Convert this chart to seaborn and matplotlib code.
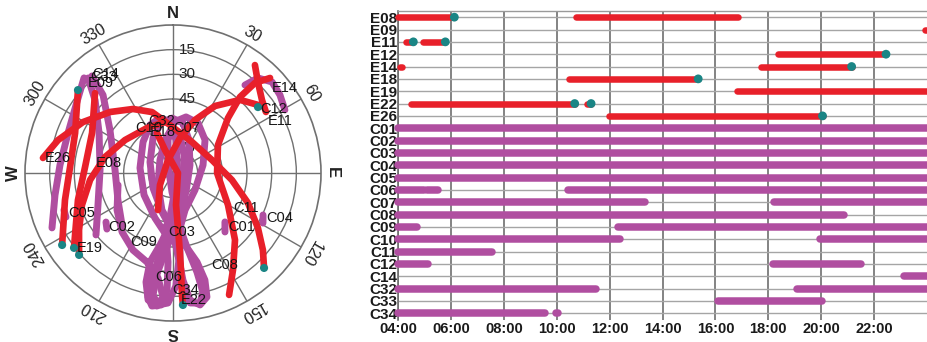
import numpy as np
import pandas as pd
import matplotlib
matplotlib.use("Agg")
import matplotlib.pyplot as plt
import seaborn as sns

# ---------------- visibility (gantt) data ----------------
rows = ['E08', 'E09', 'E11', 'E12', 'E14', 'E18', 'E19', 'E22', 'E26',
        'C01', 'C02', 'C03', 'C04', 'C05', 'C06', 'C07', 'C08', 'C09', 'C10',
        'C11', 'C12', 'C14', 'C32', 'C33', 'C34']
seg_sat = ['E08', 'E08', 'E09', 'E11', 'E11', 'E12', 'E14', 'E14', 'E18', 'E19',
           'E22', 'E22', 'E26',
           'C01', 'C02', 'C03', 'C04', 'C05', 'C06', 'C06', 'C06', 'C07', 'C07',
           'C08', 'C09', 'C09', 'C10', 'C10', 'C11', 'C12', 'C12', 'C14',
           'C32', 'C32', 'C33', 'C34', 'C34']
seg_start = [4.0, 10.73, 23.93, 4.31, 4.95, 18.35, 4.08, 17.72, 10.45, 16.8,
             4.48, 11.13, 11.98,
             4.0, 4.0, 4.0, 4.0, 4.0, 4.0, 5.1, 10.43, 4.0, 18.2,
             4.0, 4.0, 12.33, 4.0, 19.97, 4.0, 4.0, 18.17, 23.12,
             4.0, 19.1, 16.09, 4.0, 9.98]
seg_end = [6.13, 16.84, 24.0, 4.58, 5.79, 22.45, 4.16, 21.15, 15.35, 24.0,
           10.68, 11.3, 20.05,
           24.0, 24.0, 24.0, 24.0, 24.0, 5.0, 5.5, 24.0, 13.35, 24.0,
           20.85, 4.72, 24.0, 12.38, 24.0, 7.57, 5.15, 21.5, 24.0,
           11.47, 24.0, 20.03, 9.57, 10.06]
teal_sat = ['E08', 'E11', 'E11', 'E12', 'E14', 'E18', 'E22', 'E22', 'E26']
teal_time = [6.13, 4.58, 5.79, 22.45, 21.15, 15.35, 10.68, 11.3, 20.05]
time_ticks = [4, 6, 8, 10, 12, 14, 16, 18, 20, 22]
time_labels = ['04:00', '06:00', '08:00', '10:00', '12:00', '14:00', '16:00',
               '18:00', '20:00', '22:00']

# ---------------- sky plot data (azimuth deg, elevation deg) ----------------
trk_E26_az = [276.6, 286.0, 299.5, 314.1, 328.0, 341.0, 356.4, 31.5, 71.6, 96.8, 111.8, 122.9, 130.6, 136.2]
trk_E26_el = [10.4, 17.3, 27.1, 36.7, 44.1, 50.8, 60.8, 67.9, 65.0, 53.9, 40.9, 28.5, 18.0, 10.0]
trk_E22_az = [338.2, 340.8, 90.0, 174.6, 174.9, 175.3, 175.8, 175.7]
trk_E22_el = [63.8, 75.2, 87.0, 70.5, 49.1, 30.8, 15.6, 9.5]
trk_E09_az = [311.1, 292.2, 273.3, 256.0, 237.0]
trk_E09_el = [13.3, 25.7, 27.3, 22.3, 9.6]
trk_E08_az = [315.7, 296.3, 273.9, 254.1, 232.9]
trk_E08_el = [22.1, 35.1, 36.4, 29.9, 14.5]
trk_E19_az = [351.1, 330.0, 304.5, 283.2, 265.2, 250.6, 238.8, 228.9]
trk_E19_el = [58.6, 58.4, 54.6, 47.5, 39.4, 31.3, 23.2, 14.2]
trk_E14_az = [45.6, 42.3, 41.4, 45.0, 58.1, 90.0, 120.2, 137.2, 148.3, 155.3]
trk_E14_el = [7.4, 15.9, 28.4, 42.7, 57.8, 63.2, 51.3, 34.5, 20.6, 8.4]
trk_E12_az = [53.0, 42.5, 32.1, 22.5, 11.3, 339.0, 227.3, 202.1]
trk_E12_el = [22.3, 29.7, 41.9, 55.1, 68.3, 81.5, 79.2, 65.7]
trk_E11_az = [37.2, 43.0, 50.6, 56.7]
trk_E11_el = [7.6, 14.3, 20.0, 22.4]

trk_C33_az = [318.2, 313.1, 298.4, 272.4, 246.9, 231.2]
trk_C33_el = [12.5, 25.1, 38.9, 45.6, 40.4, 29.9]
trk_C14_az = [316.9, 305.0, 290.9, 274.0, 259.4, 245.6]
trk_C14_el = [10.8, 18.0, 21.7, 21.1, 17.0, 9.2]
trk_C32_az = [320.1, 318.1, 304.3, 273.0, 243.9, 224.4]
trk_C32_el = [13.1, 26.3, 43.6, 54.7, 52.7, 45.7]
trk_C12_az = [39.3, 41.8, 47.4, 53.9, 60.6]
trk_C12_el = [20.9, 12.5, 8.2, 9.5, 11.9]
trk_C06_az = [180, 195.8, 233.1, 295.6, 330.3, 346.5, 359, 11.3, 25.9, 64.8, 145.6, 171.7, 180,
              185.8, 189, 189.3, 186.5, 182.2, 178.5, 176.1, 180]
trk_C06_el = [54.1, 65.4, 74.8, 74.5, 65.5, 58.7, 56.6, 59.0, 67.7, 78.6, 76.0, 64.8, 54.1,
              41.7, 27.8, 14.8, 9.2, 10.9, 21.3, 37.0, 54.1]
trk_C07_az = [172.7, 162, 127.7, 75.1, 44.1, 26.6, 13.1, 1.1, 351.4, 328, 183, 174.1, 172.7,
              169, 166.4, 165.9, 168.3, 172.5, 175.5, 175.4, 172.7]
trk_C07_el = [56.3, 66.3, 73.1, 71.1, 62.0, 56.0, 55.0, 59.0, 69.7, 84.3, 78.4, 66.2, 56.3,
              42.3, 28.0, 15.4, 9.2, 10.3, 19.8, 36.9, 56.3]
trk_C10_az = [186.4, 201.8, 232.8, 278.6, 315.9, 334.4, 346.7, 356.6, 5.2, 26.6, 177.4, 183.9, 186.4,
              189, 191.4, 191.4, 189, 185.2, 182.9, 183.2, 186.4]
trk_C10_el = [52.1, 60.5, 67.9, 69.7, 63.8, 57.6, 55.6, 58.9, 69.9, 84.6, 76.6, 63.2, 52.1,
              39.5, 25.5, 13.1, 8.1, 9.4, 18.7, 35.8, 52.1]
trk_C08_az = [181, 196.6, 231.3, 315, 346.4, 358.7, 10.4, 31.4, 124.9, 171.1, 181,
              170.5, 164.9, 163.4, 164.7, 168.4, 172.4, 174.7, 176.5, 181]
trk_C08_el = [56.6, 66.5, 78.3, 78.8, 69.3, 62.6, 66.5, 77.2, 82.6, 70.3, 56.6,
              45.6, 33.9, 22.1, 11.8, 8.1, 12.1, 24.6, 40.0, 56.6]
trk_C09_az = [257.7, 236.5, 220.8, 207.5, 196.3, 188.1, 184.6, 186.9, 191.1, 193.9, 194.5, 190.2, 183.3, 171.1]
trk_C09_el = [55.8, 49.2, 42.6, 37.2, 33.6, 25.5, 14.4, 8.5, 11.3, 21.7, 34.1, 45.5, 58.3, 70.3]
trk_C01_az = [133.3, 138.6]
trk_C01_el = [46.6, 42.2]
trk_C02_az = [233.8, 229.7]
trk_C02_el = [39.5, 37.3]
trk_C03_az = [187.5, 185.4]
trk_C03_el = [57.5, 51.5]
trk_C04_az = [115.0, 119.1]
trk_C04_el = [29.6, 27.4]
trk_C05_az = [251.3, 247.6]
trk_C05_el = [20.0, 19.6]

sky_teal_az = [311.1, 237.0, 232.9, 228.9, 175.7, 136.2, 52.2]
sky_teal_el = [13.3, 9.6, 14.5, 14.2, 9.5, 10.0, 24.6]

sky_lab_txt = ['E26', 'E08', 'C05', 'C02', 'E19', 'C09', 'C03', 'C06', 'C34', 'E22', 'C08',
               'C01', 'C11', 'C04', 'E11', 'C12', 'E14', 'C07', 'C32', 'C10', 'E18',
               'C33', 'C14', 'E09']
sky_lab_az = [276.7, 277.4, 249.1, 230.3, 232.0, 211.9, 184.8, 189.8, 180.5, 176.4, 157.6,
              134.5, 120.3, 115.8, 61.3, 53.7, 49.4, 0.5, 334.3, 319.8, 330.7,
              319.2, 320.7, 316.6]
sky_lab_el = [11.6, 42.8, 21.7, 38.6, 15.9, 40.6, 54.0, 25.8, 18.9, 12.6, 29.5,
              43.1, 47.7, 27.2, 24.1, 24.3, 10.6, 62.6, 54.9, 54.2, 61.4,
              12.8, 12.2, 14.7]

ring_elev = [15, 30, 45, 60, 75]
ring_labels = ['15', '30', '45', '60', '75']
dir_az = [0, 30, 60, 90, 120, 150, 180, 210, 240, 270, 300, 330]
dir_labels = ['N', '30', '60', 'E', '120', '150', 'S', '210', '240', 'W', '300', '330']

RED = '#e8202a'
PURPLE = '#b04ea0'
TEAL = '#1a8585'

sns.set_style('white')
plt.rcParams['font.family'] = ['Liberation Sans', 'DejaVu Sans']

fig = plt.figure(figsize=(9.27, 3.42), dpi=100)

# ================= sky plot =================
pax = fig.add_axes([25 / 927, 21 / 342, 296 / 927, 296 / 342], projection='polar')
pax.set_theta_zero_location('N')
pax.set_theta_direction(-1)
pax.set_ylim(0, 90)
pax.set_rgrids([15, 30, 45, 60, 75])
pax.set_yticklabels([])
pax.set_thetagrids(np.arange(0, 360, 30))
pax.set_xticklabels([])
pax.grid(True, color='#707070', lw=1.0)
pax.spines['polar'].set_color('#707070')
pax.spines['polar'].set_linewidth(1.2)
pax.set_facecolor('white')

for e, t in zip(ring_elev, ring_labels):
    pax.annotate(t, xy=(0, 90 - e), xytext=(4, 0), textcoords='offset points',
                 ha='left', va='center', fontsize=11, color='#222222', zorder=1)

for a, t in zip(dir_az, dir_labels):
    bold = t in ('N', 'E', 'S', 'W')
    pax.text(np.deg2rad(a), 97, t, rotation=-a, rotation_mode='anchor',
             ha='center', va='center', fontsize=12 if bold else 11.5,
             fontweight='bold' if bold else 'normal', color='#222222', clip_on=False)

purple_tracks = [(trk_C33_az, trk_C33_el), (trk_C14_az, trk_C14_el), (trk_C32_az, trk_C32_el),
                 (trk_C12_az, trk_C12_el), (trk_C06_az, trk_C06_el), (trk_C07_az, trk_C07_el),
                 (trk_C10_az, trk_C10_el), (trk_C08_az, trk_C08_el), (trk_C09_az, trk_C09_el),
                 (trk_C01_az, trk_C01_el), (trk_C02_az, trk_C02_el), (trk_C03_az, trk_C03_el),
                 (trk_C04_az, trk_C04_el), (trk_C05_az, trk_C05_el)]
red_tracks = [(trk_E26_az, trk_E26_el), (trk_E22_az, trk_E22_el), (trk_E09_az, trk_E09_el),
              (trk_E08_az, trk_E08_el), (trk_E19_az, trk_E19_el), (trk_E14_az, trk_E14_el),
              (trk_E12_az, trk_E12_el), (trk_E11_az, trk_E11_el)]

for az, el in purple_tracks:
    pax.plot(np.deg2rad(az), 90 - np.asarray(el), color=PURPLE, lw=5.0,
             solid_capstyle='round', solid_joinstyle='round', zorder=3)
for az, el in red_tracks:
    pax.plot(np.deg2rad(az), 90 - np.asarray(el), color=RED, lw=4.8,
             solid_capstyle='round', solid_joinstyle='round', zorder=4)

sns.scatterplot(x=np.deg2rad(sky_teal_az), y=90 - np.asarray(sky_teal_el), ax=pax,
                color=TEAL, s=34, edgecolor='none', zorder=5, legend=False)
pax.set_xlabel('')
pax.set_ylabel('')
pax.set_ylim(0, 90)

for t, a, e in zip(sky_lab_txt, sky_lab_az, sky_lab_el):
    pax.text(np.deg2rad(a), 90 - e, t, ha='left', va='center', fontsize=10.5,
             color='#151515', zorder=6)

# ================= gantt =================
gax = fig.add_axes([398 / 927, 22.5 / 342, 529 / 927, 308.5 / 342])
rec = []
for i, (s, a, b) in enumerate(zip(seg_sat, seg_start, seg_end)):
    sys_ = 'E' if s.startswith('E') else 'C'
    rec.append(dict(seg=i, x=a, y=rows.index(s), sys=sys_))
    rec.append(dict(seg=i, x=b, y=rows.index(s), sys=sys_))
df = pd.DataFrame(rec)

sns.lineplot(data=df, x='x', y='y', hue='sys', size='sys', units='seg',
             estimator=None, sort=False, palette={'E': RED, 'C': PURPLE},
             sizes={'E': 4.7, 'C': 5.4}, legend=False, ax=gax)
for ln in gax.lines:
    ln.set_solid_capstyle('round')
    ln.set_clip_on(False)
    ln.set_zorder(3)

sns.scatterplot(x=teal_time, y=[rows.index(s) for s in teal_sat], ax=gax,
                color=TEAL, s=40, edgecolor='none', zorder=4, legend=False, clip_on=False)

gax.set_xlim(4, 24)
gax.set_ylim(len(rows) - 0.5, -0.5)
gax.set_yticks(range(len(rows)))
gax.set_yticklabels(rows, fontsize=11, fontweight='bold', color='#1a1a1a')
gax.set_xticks(time_ticks)
gax.set_xticklabels(time_labels, fontsize=10.5, fontweight='bold', color='#1a1a1a')
gax.tick_params(axis='both', length=0)
gax.tick_params(axis='y', pad=0.5)
gax.tick_params(axis='x', pad=2)
gax.set_xlabel('')
gax.set_ylabel('')
gax.set_axisbelow(True)
gax.xaxis.grid(True, color='#6e6e6e', lw=1.2)
gax.yaxis.grid(True, color='#a5a5a5', lw=1.0)
for sp in ('right', 'bottom'):
    gax.spines[sp].set_visible(False)
gax.spines['left'].set_color('#6e6e6e')
gax.spines['left'].set_linewidth(1.2)
gax.spines['top'].set_color('#9a9a9a')
gax.spines['top'].set_linewidth(1.0)

fig.savefig('out.png', dpi=100)
